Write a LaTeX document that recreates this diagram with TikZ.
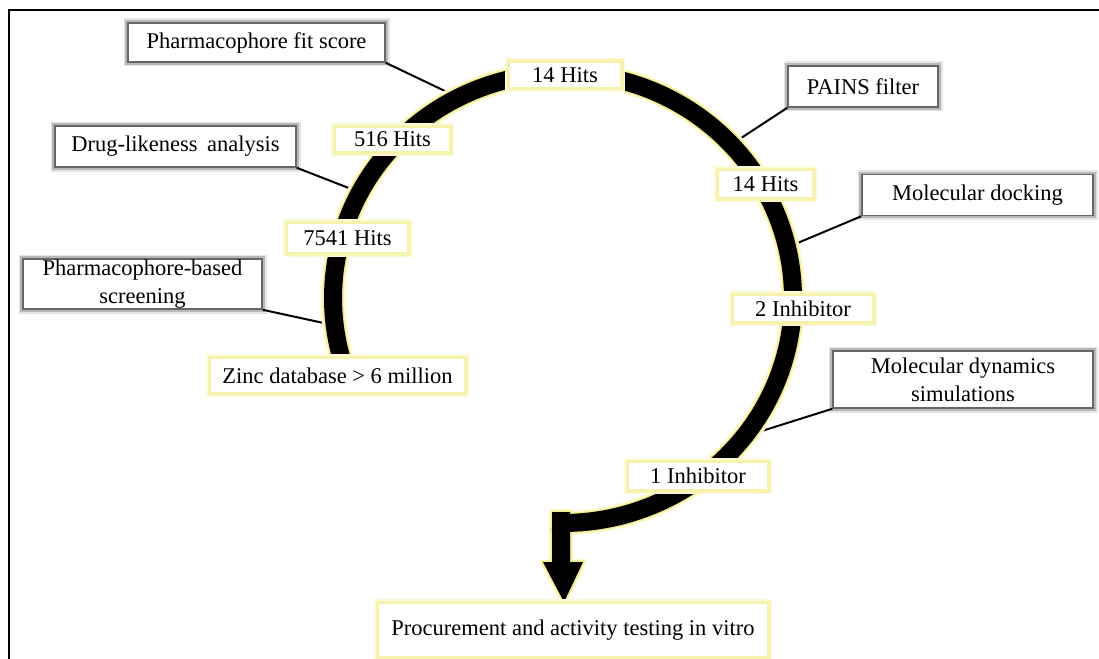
\documentclass[tikz,border=0pt]{standalone}
\usepackage{fontspec}
\setmainfont{Liberation Serif}
\definecolor{glowA}{RGB}{253,251,215}
\definecolor{glowB}{RGB}{243,236,140}
\definecolor{ybord}{RGB}{247,242,170}
\tikzset{
  lbl/.style={font=\fontsize{22.5}{28}\selectfont, inner sep=0pt, align=center},
  graybox/.style={lbl, fill=white, draw=black!60, line width=1.6pt,
    preaction={draw=black!10, line width=9pt},
    preaction={draw=black!28, line width=5.5pt}},
  ybox/.style={lbl, fill=white, draw=ybord, line width=2.5pt,
    preaction={draw=glowA, line width=8pt},
    preaction={draw=glowB!65!white, line width=5pt}},
  conn/.style={draw=black, line width=2pt},
  bandglowA/.style={draw=glowA, line width=25pt},
  bandglowB/.style={draw=glowB, line width=21pt},
  band/.style={draw=black, line width=18pt},
}
\begin{document}
\begin{tikzpicture}[x=1pt,y=-1pt]
\useasboundingbox (0,0) rectangle (1099,658);
\fill[white] (0,0) rectangle (1099,658);
% frame
\draw[line width=2pt] (9,660) -- (9,10) -- (1101,10);

% points on the band
\coordinate (e1) at ({563+230*cos(243)},{298+225*sin(243)});
\coordinate (e2) at ({563+230*cos(208)},{298+225*sin(208)});
\coordinate (e3) at ({563+230*cos(173)},{298+225*sin(173)});
\coordinate (e4) at ({563+230*cos(317)},{298+225*sin(317)});
\coordinate (e5) at ({563+230*cos(347)},{298+225*sin(347)});
\coordinate (e6) at ({563+230*cos(38)},{298+225*sin(38)});

% grey step boxes
\node[graybox, minimum width=257pt, minimum height=39pt] (pfs) at (256.5,42.5) {Pharmacophore fit score};
\node[graybox, minimum width=241pt, minimum height=41pt] (dla) at (175.5,146.5) {Drug-likeness\, analysis};
\node[graybox, minimum width=239pt, minimum height=50pt] (pbs) at (142.5,284) {Pharmacophore-based\\screening};
\node[graybox, minimum width=150pt, minimum height=41pt] (pains) at (863,86.5) {PAINS filter};
\node[graybox, minimum width=231pt, minimum height=41pt] (md) at (977.5,195) {Molecular docking};
\node[graybox, minimum width=260pt, minimum height=57pt] (mds) at (963,379.5) {Molecular dynamics\\simulations};

% connectors
\draw[conn] (pfs.south east) -- (e1);
\draw[conn] (dla.south east) -- (e2);
\draw[conn] (pbs.south east) -- (e3);
\draw[conn] (pains.south west) -- (e4);
\draw[conn] (md.south west) -- (e5);
\draw[conn] (mds.south west) -- (e6);

% band glow
\draw[bandglowA] plot[domain=160:452.7, samples=160] ({563+230*cos(\x)},{298+225*sin(\x)});
\draw[draw=glowA, fill=glowA, line width=7pt, line join=round]
  (552,512) -- (570,512) -- (570,562) -- (583,562) -- (564,602) -- (543,562) -- (552,562) -- cycle;
\draw[bandglowB] plot[domain=160:452.7, samples=160] ({563+230*cos(\x)},{298+225*sin(\x)});
\draw[draw=glowB, fill=glowB, line width=3.5pt, line join=round]
  (552,512) -- (570,512) -- (570,562) -- (583,562) -- (564,602) -- (543,562) -- (552,562) -- cycle;
% band
\draw[band] plot[domain=160:452.7, samples=160] ({563+230*cos(\x)},{298+225*sin(\x)});
\fill[black]
  (552,512) -- (570,512) -- (570,562) -- (583,562) -- (564,602) -- (543,562) -- (552,562) -- cycle;

% yellow count boxes
\node[ybox, minimum width=112pt, minimum height=26pt] (h14a) at (565,75) {14 Hits};
\node[ybox, minimum width=115pt, minimum height=25pt] (h516) at (392.5,139.5) {516 Hits};
\node[ybox, minimum width=121pt, minimum height=30pt] (h7541) at (347.5,238) {7541 Hits};
\node[ybox, minimum width=255pt, minimum height=35pt] (zinc) at (337.5,375.5) {Zinc database > 6 million};
\node[ybox, minimum width=95pt, minimum height=28pt] (h14b) at (765.5,184) {14 Hits};
\node[ybox, minimum width=140pt, minimum height=27pt] (inh2) at (803,308.5) {2 Inhibitor};
\node[ybox, minimum width=140pt, minimum height=28pt] (inh1) at (698,476) {1 Inhibitor};
\node[ybox, minimum width=390pt, minimum height=54pt] (proc) at (573,630) {Procurement and activity testing in vitro};
\end{tikzpicture}
\end{document}
